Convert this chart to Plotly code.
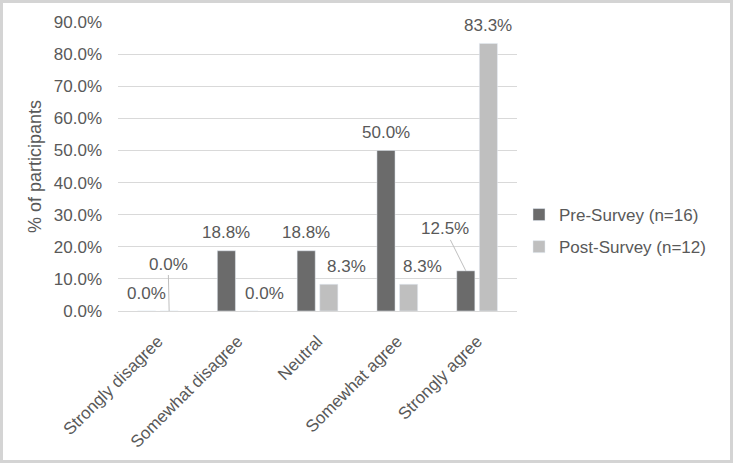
import plotly.graph_objects as go

categories = ["Strongly disagree", "Somewhat disagree", "Neutral", "Somewhat agree", "Strongly agree"]
pre_values = [0.0, 0.1875, 0.1875, 0.5, 0.125]
post_values = [0.0, 0.0, 0.0833, 0.0833, 0.8333]
series_names = ["Pre-Survey (n=16)", "Post-Survey (n=12)"]
y_ticks = [0.0, 0.1, 0.2, 0.3, 0.4, 0.5, 0.6, 0.7, 0.8, 0.9]

PRE_COLOR = "#6b6b6b"
POST_COLOR = "#bfbfbf"
TEXT = "#595959"
GRID = "#d9d9d9"
FONT = "Liberation Sans, Arial, sans-serif"
FS = 17

W, H = 733, 463
ML, MR, MT, MB = 118, 216, 22, 152
PW = W - ML - MR
PH = H - MT - MB

fig = go.Figure()
fig.add_trace(go.Bar(x=categories, y=pre_values, name=series_names[0],
                     marker_color=PRE_COLOR, legendgroup="a"))
fig.add_trace(go.Bar(x=categories, y=post_values, name=series_names[1],
                     marker_color=POST_COLOR, legendgroup="b"))

# label style per bar: (extra dx px, leader offset (ax, ay) or None)
BAR_OFF = 11.25
pre_style = [(0, None), (0, None), (0, None), (0, None), (0, (-21, -42))]
post_style = [(0, (-1, -47)), (16, None), (18, None), (14, None), (0, None)]

annotations = []
for vals, styles, sign in ((pre_values, pre_style, -1), (post_values, post_style, 1)):
    for cat, v, (dx, leader) in zip(categories, vals, styles):
        txt = f"{v*100:.1f}%"
        if leader is None:
            annotations.append(dict(x=cat, y=v, text=txt, showarrow=False,
                                    xshift=sign * BAR_OFF + dx, yshift=18,
                                    yanchor="middle", xanchor="center",
                                    font=dict(size=FS, color=TEXT, family=FONT)))
        else:
            annotations.append(dict(x=cat, y=v, text=txt, showarrow=True,
                                    arrowhead=0, arrowwidth=1, arrowcolor="#bfbfbf",
                                    ax=leader[0], ay=leader[1], standoff=0,
                                    xshift=sign * BAR_OFF + dx,
                                    font=dict(size=FS, color=TEXT, family=FONT)))

fig.update_layout(
    width=W, height=H,
    margin=dict(l=ML, r=MR, t=MT, b=MB, pad=0),
    paper_bgcolor="white", plot_bgcolor="white",
    font=dict(family=FONT, size=FS, color=TEXT),
    barmode="group", bargap=0.433, bargroupgap=0.2,
    showlegend=True,
    legend=dict(x=(519 - ML) / PW, y=1 - (231 - MT) / PH, xanchor="left", yanchor="middle",
                font=dict(size=FS, color=TEXT, family=FONT),
                traceorder="grouped", tracegroupgap=7,
                bgcolor="rgba(0,0,0,0)"),
    annotations=annotations,
    shapes=[dict(type="rect", xref="paper", yref="paper",
                 x0=-ML / PW + 1.5 / PW, x1=1 + MR / PW - 1.5 / PW,
                 y0=-MB / PH + 1.5 / PH, y1=1 + MT / PH - 1.5 / PH,
                 line=dict(color="#d4d4d4", width=3), layer="below")],
)
fig.update_xaxes(type="category", tickangle=-45, showgrid=False, showline=False,
                 ticks="", ticklabelstandoff=16,
                 tickfont=dict(size=FS, color=TEXT, family=FONT))
fig.update_yaxes(range=[0, 0.9], tickvals=y_ticks, tickformat=".1%",
                 showgrid=True, gridcolor=GRID, gridwidth=1,
                 zeroline=True, zerolinecolor=GRID, zerolinewidth=1,
                 showline=False, ticks="", ticklabelstandoff=15,
                 tickfont=dict(size=FS, color=TEXT, family=FONT),
                 title=dict(text="% of participants", standoff=7,
                            font=dict(size=18, color=TEXT, family=FONT)))

fig.write_html("out.html")
